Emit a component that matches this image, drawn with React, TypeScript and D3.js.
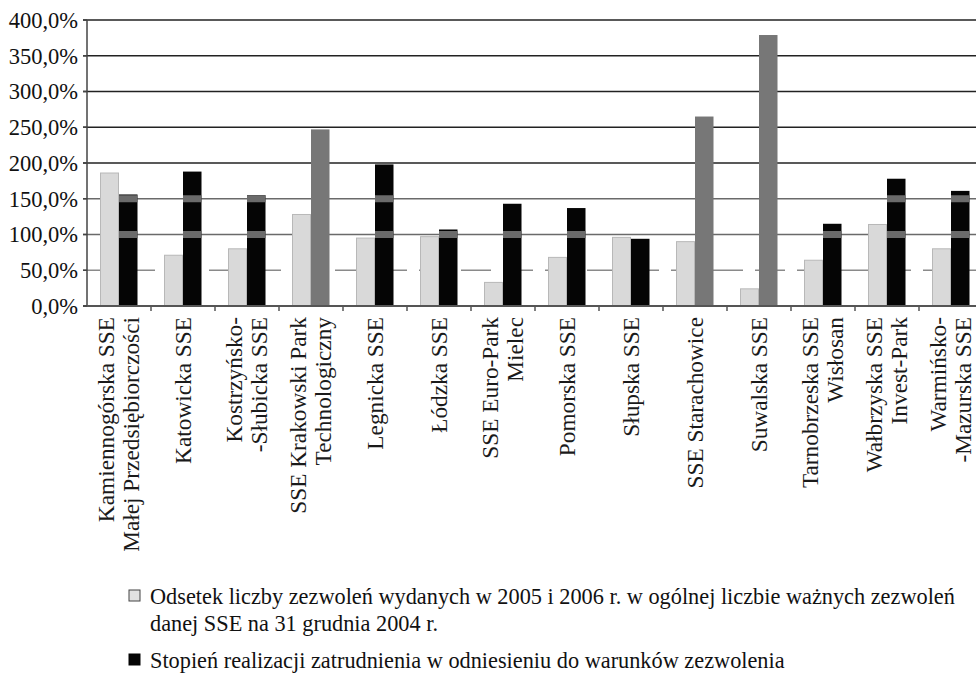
import React, { useEffect, useRef } from "react";
import * as d3 from "d3";

// categories (each label split in lines as in the figure)
const categories = [
  "Kamiennogórska SSE|Małej Przedsiębiorczości",
  "Katowicka SSE",
  "Kostrzyńsko-|-Słubicka SSE",
  "SSE Krakowski Park|Technologiczny",
  "Legnicka SSE",
  "Łódzka SSE",
  "SSE Euro-Park|Mielec",
  "Pomorska SSE",
  "Słupska SSE",
  "SSE Starachowice",
  "Suwalska SSE",
  "Tarnobrzeska SSE|Wisłosan",
  "Wałbrzyska SSE|Invest-Park",
  "Warmińsko-|-Mazurska SSE",
];

// percent values
const odsetek = [186, 71, 80, 128, 95, 97, 33, 68, 96, 90, 24, 64, 114, 80];
const stopien = [156, 188, 155, 247, 198, 107, 143, 137, 94, 265, 379, 115, 178, 161];

const yTicks = [0, 50, 100, 150, 200, 250, 300, 350, 400];

const legendLabels = [
  "Odsetek liczby zezwoleń wydanych w 2005 i 2006 r. w ogólnej liczbie ważnych zezwoleń|danej SSE na 31 grudnia 2004 r.",
  "Stopień realizacji zatrudnienia w odniesieniu do warunków zezwolenia",
];

const FONT = "'Liberation Serif', 'Times New Roman', serif";

const drawChart = (el: SVGSVGElement) => {
  const width = 976;
  const height = 673;
  const left = 87;
  const top = 20;
  const bottom = 306;
  const step = 64;

  const svg = d3.select(el);
  svg.selectAll("*").remove();
  svg.attr("width", width).attr("height", height);

  const x = d3.scaleBand<number>()
    .domain(categories.map((_, i) => i))
    .range([left, left + step * categories.length])
    .padding(0);
  const barW = 18.5;
  const y = d3.scaleLinear().domain([0, 400]).range([bottom, top]);

  const fmt = (v: number) => d3.format(".1f")(v).replace(".", ",") + "%";

  // gridlines
  const grid = svg.append("g");
  yTicks.filter((t) => t > 0).forEach((t) => {
    grid.append("line")
      .attr("x1", left - 4)
      .attr("x2", width)
      .attr("y1", y(t))
      .attr("y2", y(t))
      .attr("stroke", t >= 200 ? "#222" : t === 50 ? "#8a8a8a" : "#6a6a6a")
      .attr("stroke-width", t >= 200 ? 1.6 : 1.4)
      .attr("stroke-dasharray", t === 50 ? "30 12" : null);
  });

  // y labels
  svg.append("g")
    .selectAll("text")
    .data(yTicks)
    .enter()
    .append("text")
    .attr("x", 78)
    .attr("y", (d) => y(d))
    .attr("dy", "0.35em")
    .attr("text-anchor", "end")
    .attr("font-family", FONT)
    .attr("font-size", 22.5)
    .attr("fill", "#111")
    .text(fmt);

  const groups = svg.append("g")
    .selectAll("g")
    .data(categories.map((c, i) => i))
    .enter()
    .append("g")
    .attr("transform", (i) => `translate(${(x(i) as number) + x.bandwidth() / 2},0)`);

  // light bars
  groups.append("rect")
    .attr("x", -barW)
    .attr("y", (i) => y(odsetek[i]))
    .attr("width", barW - 0.5)
    .attr("height", (i) => bottom - y(odsetek[i]))
    .attr("fill", "#d9d9d9")
    .attr("stroke", "#b8b8b8")
    .attr("stroke-width", 1);

  // dark bars (values above 200 printed in grey)
  groups.append("rect")
    .attr("x", 0)
    .attr("y", (i) => y(stopien[i]))
    .attr("width", barW)
    .attr("height", (i) => bottom - y(stopien[i]))
    .attr("fill", (i) => (stopien[i] > 200 ? "#777" : "#050505"));

  // grey bands where the 100% / 150% gridlines cross the black bars
  [100, 150].forEach((t) => {
    groups.filter((i) => stopien[i] <= 200 && stopien[i] > t + 3)
      .append("rect")
      .attr("x", 0)
      .attr("y", y(t) - 3.5)
      .attr("width", barW)
      .attr("height", 7)
      .attr("fill", "#6b6b6b");
  });

  // axes
  svg.append("line")
    .attr("x1", left).attr("x2", left)
    .attr("y1", top).attr("y2", bottom + 1)
    .attr("stroke", "#444").attr("stroke-width", 1.5);
  svg.append("line")
    .attr("x1", left - 4).attr("x2", width)
    .attr("y1", bottom).attr("y2", bottom)
    .attr("stroke", "#555").attr("stroke-width", 2);
  yTicks.forEach((t) => {
    svg.append("line")
      .attr("x1", left - 4).attr("x2", left)
      .attr("y1", y(t)).attr("y2", y(t))
      .attr("stroke", "#444").attr("stroke-width", 1.5);
  });
  categories.forEach((_, i) => {
    const xx = (x(i) as number) + step;
    svg.append("line")
      .attr("x1", xx).attr("x2", xx)
      .attr("y1", bottom).attr("y2", bottom + 5)
      .attr("stroke", "#555").attr("stroke-width", 1.5);
  });

  // category labels, rotated
  groups.each(function (i) {
    const lines = categories[i].split("|");
    const g = d3.select(this);
    lines.forEach((line, k) => {
      const off = lines.length === 1 ? 0 : (k === 0 ? -13.5 : 12);
      g.append("text")
        .attr("transform", `translate(${off},${bottom + 11}) rotate(-90)`)
        .attr("text-anchor", "end")
        .attr("dy", "0.35em")
        .attr("font-family", FONT)
        .attr("font-size", 23.3)
        .attr("fill", "#1a1a1a")
        .text(line);
    });
  });

  // legend
  const legend = svg.append("g");
  const legY = [596, 660];
  legendLabels.forEach((lab, k) => {
    legend.append("rect")
      .attr("x", 129)
      .attr("y", legY[k] - 6)
      .attr("width", 11)
      .attr("height", 11)
      .attr("fill", k === 0 ? "#e2e2e2" : "#050505")
      .attr("stroke", k === 0 ? "#444" : "#050505")
      .attr("stroke-width", 1);
    lab.split("|").forEach((line, j) => {
      legend.append("text")
        .attr("x", 150)
        .attr("y", legY[k] + j * 27)
        .attr("dy", "0.35em")
        .attr("font-family", FONT)
        .attr("font-size", 22.3)
        .attr("fill", "#111")
        .text(line);
    });
  });
};

export default function App() {
  const ref = useRef<SVGSVGElement>(null);
  useEffect(() => {
    if (ref.current) drawChart(ref.current);
  }, []);
  return (
    <div style={{ position: "absolute", left: 0, top: 0, background: "#fff" }}>
      <svg ref={ref} style={{ display: "block" }} />
    </div>
  );
}
